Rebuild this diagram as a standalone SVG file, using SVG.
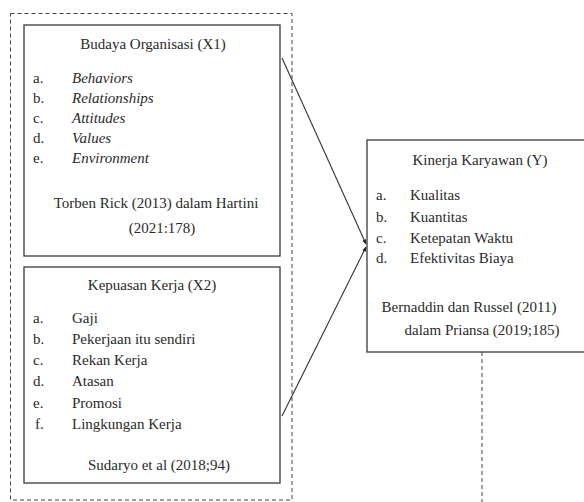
<svg xmlns="http://www.w3.org/2000/svg" width="584" height="502" viewBox="0 0 584 502" font-family="'Liberation Serif', 'DejaVu Serif', serif">
<defs>
<marker id="arr" viewBox="0 0 10 10" refX="9" refY="5" markerWidth="5" markerHeight="5" orient="auto" markerUnits="userSpaceOnUse">
<path d="M0,1 L10,5 L0,9 z" fill="#222"/>
</marker>
<style>
text{font-family:'Liberation Serif','DejaVu Serif',serif;font-size:15px;fill:#2a2a2a}
.c{text-anchor:middle}
.i{font-style:italic}
.box{fill:#fff;stroke:#3a3a3a;stroke-width:1.3}
.dash{fill:none;stroke:#444;stroke-width:1;stroke-dasharray:4,3}
.conn{stroke:#333;stroke-width:1.1;fill:none}
</style>
</defs>
<rect width="584" height="502" fill="#fff"/>
<rect id="group-x" class="dash" x="10.5" y="13.5" width="281.5" height="486.5"/>
<g id="x1">
<rect class="box" x="24" y="25" width="256" height="231"/>
<text class="c" x="153" y="49">Budaya Organisasi (X1)</text>
<text x="33" y="83">a.</text><text class="i" x="72" y="83">Behaviors</text>
<text x="33" y="103">b.</text><text class="i" x="72" y="103">Relationships</text>
<text x="33" y="123">c.</text><text class="i" x="72" y="123">Attitudes</text>
<text x="33" y="143">d.</text><text class="i" x="72" y="143">Values</text>
<text x="33" y="163">e.</text><text class="i" x="72" y="163">Environment</text>
<text class="c" x="156" y="208">Torben Rick (2013) dalam Hartini</text>
<text class="c" x="162" y="233">(2021:178)</text>
</g>
<g id="x2">
<rect class="box" x="24" y="267" width="256" height="216"/>
<text class="c" x="152" y="290">Kepuasan Kerja (X2)</text>
<text x="33" y="323">a.</text><text x="72" y="323">Gaji</text>
<text x="33" y="344">b.</text><text x="72" y="344">Pekerjaan itu sendiri</text>
<text x="33" y="365">c.</text><text x="72" y="365">Rekan Kerja</text>
<text x="33" y="386">d.</text><text x="72" y="386">Atasan</text>
<text x="33" y="408">e.</text><text x="72" y="408">Promosi</text>
<text x="35" y="429">f.</text><text x="72" y="429">Lingkungan Kerja</text>
<text class="c" x="159" y="470">Sudaryo et al (2018;94)</text>
</g>
<g id="y">
<rect class="box" x="367" y="140" width="222" height="212"/>
<text class="c" x="480" y="165">Kinerja Karyawan (Y)</text>
<text x="376" y="200">a.</text><text x="410" y="200">Kualitas</text>
<text x="376" y="222">b.</text><text x="410" y="222">Kuantitas</text>
<text x="376" y="243">c.</text><text x="410" y="243">Ketepatan Waktu</text>
<text x="376" y="263">d.</text><text x="410" y="263">Efektivitas Biaya</text>
<text class="c" x="469" y="312">Bernaddin dan Russel (2011)</text>
<text class="c" x="482" y="335">dalam Priansa (2019;185)</text>
</g>
<g id="connectors">
<line class="conn" x1="282" y1="58" x2="366" y2="244" marker-end="url(#arr)"/>
<line class="conn" x1="282" y1="416" x2="366" y2="247" marker-end="url(#arr)"/>
<line class="dash" x1="482" y1="352" x2="482" y2="502"/>
</g>
</svg>
